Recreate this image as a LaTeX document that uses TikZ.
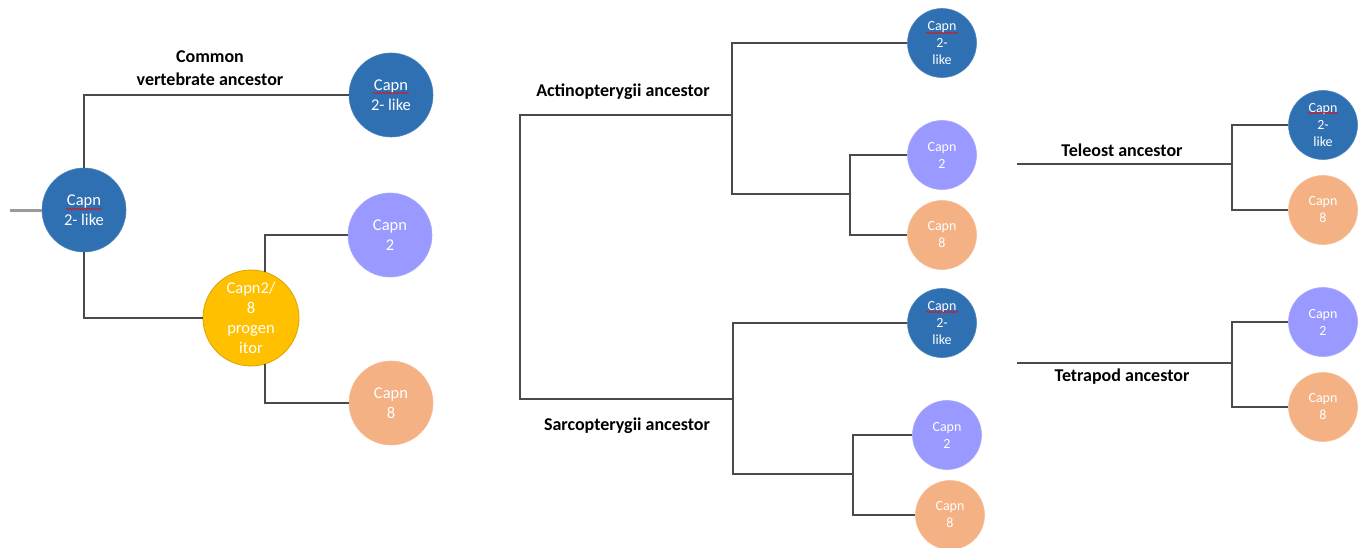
\documentclass[tikz,border=0pt]{standalone}
\usepackage{fontspec}
\setmainfont{Carlito}
\usetikzlibrary{calc,decorations.pathmorphing}
\definecolor{cblue}{HTML}{2E70B2}
\definecolor{cpurple}{HTML}{9999FF}
\definecolor{corange}{HTML}{F4B183}
\definecolor{cyellow}{HTML}{FFC000}
\definecolor{lineg}{HTML}{4A4A4A}
\definecolor{stubg}{HTML}{9A9A9A}
\begin{document}
\begin{tikzpicture}[x=1pt,y=-1pt,
  branch/.style={draw=lineg, line width=1.6pt},
  stubline/.style={draw=stubg, line width=3pt},
  circ/.style={circle, inner sep=0pt, text=white, align=center},
  big/.style={circ, minimum size=84pt, font=\fontsize{16.5}{20}\selectfont},
  small/.style={circ, minimum size=69pt, font=\fontsize{14}{17}\selectfont},
  like/.style={fill=cblue, draw=cblue!85!white, line width=0.6pt},
  two/.style={fill=cpurple, draw=cpurple!85!white, line width=0.6pt},
  eight/.style={fill=corange, draw=corange!85!white, line width=0.6pt},
  prog/.style={fill=cyellow, draw=cyellow!85!black, line width=0.8pt},
  lab/.style={font=\bfseries\fontsize{18}{23}\selectfont, text=black, align=center, inner sep=0pt},
  spell/.style={draw=red, line width=0.6pt, decorate, decoration={snake, amplitude=0.7pt, segment length=3pt}}
]
\useasboundingbox (0,0) rectangle (1360,548);

% ---------- left tree ----------
\node[big,like] (L0) at (84,210) {Capn\\2- like};
\node[big,like] (L1) at (391,95) {Capn\\2- like};
\node[circ, prog, minimum size=96pt, font=\fontsize{16.5}{20}\selectfont] (LP) at (251,318) {Capn2/\\8\\progen\\itor};
\node[big,two] (L2) at (390,235) {Capn\\2};
\node[big,eight] (L8) at (391,403) {Capn\\8};
\coordinate (Lstub) at (10,211);
\draw[stubline] (Lstub) -- (L0.west |- Lstub);
\draw[branch] (L0.north) |- (L1.west);
\draw[branch] (L0.south) |- (LP.west);
\draw[branch] (LP.73) |- (L2.west);
\draw[branch] (LP.-73) |- (L8.west);
\node[lab] (cva) at (210,68) {Common\\vertebrate ancestor};

% ---------- middle tree ----------
\node[small,like] (MA1) at (942,43) {Capn\\2-\\like};
\node[small,two] (MA2) at (942,155) {Capn\\2};
\node[small,eight] (MA8) at (942,235) {Capn\\8};
\node[small,like] (MS1) at (942,323) {Capn\\2-\\like};
\node[small,two] (MS2) at (947,435) {Capn\\2};
\node[small,eight] (MS8) at (950,515) {Capn\\8};
\coordinate (Mt) at (520,115);
\coordinate (Mb) at (520,399);
\coordinate (A) at (732,115);
\coordinate (S) at (733,399);
\coordinate (Aj) at (850,194);
\coordinate (Sj) at (853,474);
\draw[branch] (A) -- (Mt) -- (Mb) -- (S);
\draw[branch] (MA1.west) -| (A) |- (Aj);
\draw[branch] (MA2.west) -| (Aj) |- (MA8.west);
\draw[branch] (MS1.west) -| (S) |- (Sj);
\draw[branch] (MS2.west) -| (Sj) |- (MS8.west);
\node[lab] (act) at (623,92) {Actinopterygii ancestor};
\node[lab] (sar) at (627,426) {Sarcopterygii ancestor};

% ---------- right trees ----------
\node[small,like] (T1) at (1323,125) {Capn\\2-\\like};
\node[small,eight] (T8) at (1323,210) {Capn\\8};
\node[small,two] (P2) at (1323,322) {Capn\\2};
\node[small,eight] (P8) at (1323,407) {Capn\\8};
\coordinate (T0) at (1017,164);
\coordinate (Tj) at (1232,164);
\coordinate (P0) at (1017,363);
\coordinate (Pj) at (1232,363);
\draw[branch] (T0) -- (Tj);
\draw[branch] (T1.west) -| (Tj) |- (T8.west);
\draw[branch] (P0) -- (Pj);
\draw[branch] (P2.west) -| (Pj) |- (P8.west);
\node[lab] (tel) at (1122,150) {Teleost ancestor};
\node[lab] (tet) at (1122,377) {Tetrapod ancestor};

% ---------- spell-check underlines ----------
\draw[spell] ($(L0.center)+(-18,-1)$) -- ++(36,0);
\draw[spell] ($(L1.center)+(-18,-2)$) -- ++(36,0);
\draw[spell] ($(MA1.center)+(-16,-10)$) -- ++(32,0);
\draw[spell] ($(MS1.center)+(-16,-11)$) -- ++(32,0);
\draw[spell] ($(T1.center)+(-15,-12)$) -- ++(30,0);
\end{tikzpicture}
\end{document}
